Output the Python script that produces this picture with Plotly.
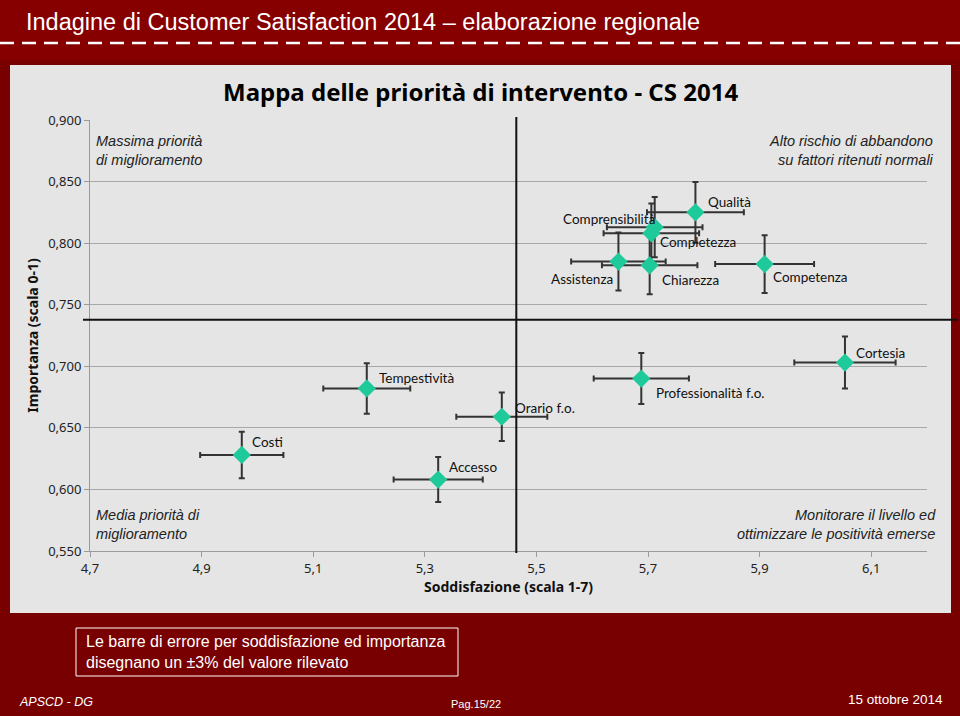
import plotly.graph_objects as go

# ---- data ----
labels = ["Costi", "Tempestività", "Accesso", "Orario f.o.", "Professionalità f.o.",
          "Cortesia", "Qualità", "Comprensibilità", "Completezza", "Assistenza",
          "Chiarezza", "Competenza"]
soddisfazione = [4.972, 5.196, 5.324, 5.438, 5.688, 6.053, 5.785, 5.712, 5.706, 5.647, 5.703, 5.909]
importanza = [0.628, 0.682, 0.608, 0.659, 0.690, 0.703, 0.825, 0.813, 0.808, 0.785, 0.782, 0.783]
err_x_pct = 1.5
err_y_pct = 3.0
media_soddisfazione = 5.464
media_importanza = 0.7377
x_ticks = [4.7, 4.9, 5.1, 5.3, 5.5, 5.7, 5.9, 6.1]
y_ticks = [0.55, 0.60, 0.65, 0.70, 0.75, 0.80, 0.85, 0.90]

# label placement (style only): anchor side and pixel offsets from the point
label_anchor = ["left", "left", "left", "left", "left", "left",
                "left", "right", "left", "right", "left", "left"]
label_dx = [8, 10, 9, 11, 13, 9, 11, 2, 7, -3, 10, 6]
label_dy = [13, 10, 13, 9, -14, 10, 10, 8, -9, -17, -15, -13]

# ---- geometry helpers (pixel -> paper) ----
W, H = 960, 716
L, R, T, B = 90, 33, 120, 165
PW, PH = W - L - R, H - T - B


def px(x):
    return (x - L) / PW


def py(y):
    return (H - B - y) / PH


RED = "#780000"
GRAY = "#e5e5e5"
GREEN = "#1ec99a"

fig = go.Figure()
fig.add_trace(go.Scatter(
    x=soddisfazione, y=importanza, mode="markers",
    marker=dict(symbol="diamond", size=14, color=GREEN, line=dict(width=0)),
    error_x=dict(type="percent", value=err_x_pct, color="#333", thickness=2, width=3),
    error_y=dict(type="percent", value=err_y_pct, color="#333", thickness=2, width=3),
    showlegend=False, cliponaxis=False, hoverinfo="skip",
))

shapes = [
    dict(type="rect", xref="paper", yref="paper", x0=px(0), x1=px(W), y0=py(60), y1=py(0),
         fillcolor="#860000", line=dict(width=0), layer="below"),
    dict(type="line", xref="paper", yref="paper", x0=px(0), x1=px(W), y0=py(43), y1=py(43),
         line=dict(color="white", width=2.5, dash="14px,8px"), layer="above"),
    dict(type="rect", xref="paper", yref="paper", x0=px(10), x1=px(951), y0=py(613), y1=py(65),
         fillcolor=GRAY, line=dict(width=0), layer="below"),
    dict(type="line", xref="x", yref="paper", x0=media_soddisfazione, x1=media_soddisfazione,
         y0=py(553), y1=py(117), line=dict(color="#111", width=2), layer="above"),
    dict(type="line", xref="paper", yref="y", x0=px(83), x1=px(958),
         y0=media_importanza, y1=media_importanza, line=dict(color="#111", width=2), layer="above"),
    dict(type="rect", xref="paper", yref="paper", x0=px(76), x1=px(458), y0=py(676), y1=py(628),
         line=dict(color="white", width=1), fillcolor="rgba(0,0,0,0)", layer="above"),
]


def ann(text, x, y, xa, ya, font, align="left"):
    return dict(text=text, x=px(x), y=py(y), xref="paper", yref="paper",
                xanchor=xa, yanchor=ya, align=align, showarrow=False, font=font)


ital = dict(family="Liberation Sans, Arial, sans-serif", size=14.5, color="#222")
white = "white"
SANS = "Liberation Sans, Arial, sans-serif"
annotations = [
    ann("Indagine di Customer Satisfaction 2014 – elaborazione regionale", 24, 22, "left", "middle",
        dict(family=SANS, size=23.5, color=white)),
    ann("<b>Mappa delle priorità di intervento - CS 2014</b>", 480, 91, "center", "middle",
        dict(family="Noto Sans, DejaVu Sans, sans-serif", size=24, color="black"), "center"),
    ann("<i>Massima priorità<br>di miglioramento</i>", 94, 131, "left", "top", ital),
    ann("<i>Alto rischio di abbandono<br>su fattori ritenuti normali</i>", 936, 131, "right", "top", ital, "right"),
    ann("<i>Media priorità di<br>miglioramento</i>", 94, 505, "left", "top", ital),
    ann("<i>Monitorare il livello ed<br>ottimizzare le positività emerse</i>", 938, 505, "right", "top", ital, "right"),
    ann("Le barre di errore per soddisfazione ed importanza<br>disegnano un ±3% del valore rilevato",
        84, 652, "left", "middle", dict(family=SANS, size=16, color=white)),
    ann("<i>APSCD - DG</i>", 17, 702, "left", "middle", dict(family=SANS, size=12.5, color=white)),
    ann("Pag.15/22", 476, 704, "center", "middle", dict(family=SANS, size=11, color=white)),
    ann("15 ottobre 2014", 945, 699, "right", "middle", dict(family=SANS, size=13.5, color=white)),
]

label_font = dict(family="Lato, Open Sans, sans-serif", size=13.5, color="#111")
for lab, xv, yv, xa, dx, dy in zip(labels, soddisfazione, importanza, label_anchor, label_dx, label_dy):
    annotations.append(dict(text=lab, x=xv, y=yv, xref="x", yref="y", xanchor=xa, yanchor="middle",
                            xshift=dx, yshift=dy, showarrow=False, font=label_font))

tickfont = dict(family="Noto Sans, DejaVu Sans, sans-serif", size=13, color="#222")
fig.update_layout(
    width=W, height=H,
    margin=dict(l=L, r=R, t=T, b=B, pad=0),
    paper_bgcolor=RED, plot_bgcolor=GRAY,
    separators=",.",
    shapes=shapes, annotations=annotations,
    xaxis=dict(range=[4.7, 6.2], tickvals=x_ticks, tickformat=".1f", showgrid=False,
               zeroline=False, showline=True, linecolor="#9a9a9a", linewidth=1,
               ticks="outside", ticklen=5, tickcolor="#9a9a9a", tickfont=tickfont,
               title=dict(text="<b>Soddisfazione (scala 1-7)</b>", standoff=6,
                          font=dict(family="Noto Sans, DejaVu Sans, sans-serif", size=14, color="#111"))),
    yaxis=dict(range=[0.55, 0.90], tickvals=y_ticks, tickformat=".3f", showgrid=True,
               gridcolor="#a8a8a8", gridwidth=1, zeroline=False, showline=True,
               linecolor="#9a9a9a", linewidth=1, ticks="outside", ticklen=5, tickcolor="#9a9a9a",
               tickfont=tickfont,
               title=dict(text="<b>Importanza (scala 0-1)</b>", standoff=6,
                          font=dict(family="Noto Sans, DejaVu Sans, sans-serif", size=14, color="#111"))),
)

fig.write_html("out.html", config={"displayModeBar": False},
               post_script="document.body.style.margin='0';document.body.style.overflow='hidden';")
